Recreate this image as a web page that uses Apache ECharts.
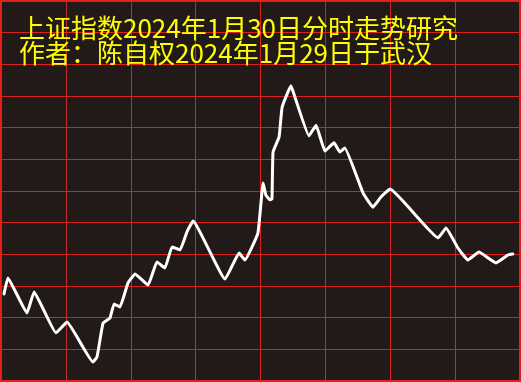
<!DOCTYPE html>
<html>
<head>
<meta charset="utf-8">
<script src="https://cdn.jsdelivr.net/npm/echarts@6/dist/echarts.min.js"></script>
<style>
html,body{margin:0;padding:0;background:#211a18;}
#chart{width:521px;height:382px;}
</style>
</head>
<body>
<div id="chart"></div>
<script>
// Title lines
const titleLine1 = "上证指数2024年1月30日分时走势研究";
const titleLine2 = "作者：陈自权2024年1月29日于武汉";

// Trading minutes from open (0..240)
const minutes = [1.4, 3.2, 12.0, 15.3, 25.4, 30.5, 42.5, 44.4, 47.2, 50.4, 52.3, 55.0, 58.7, 62.0, 68.0, 72.1, 75.8, 79.1, 82.8, 86.0, 88.8, 103.6, 110.1, 112.8, 118.8, 121.2, 122.5, 124.4, 125.3, 125.8, 128.6, 130.0, 134.1, 135.9, 142.4, 145.7, 149.8, 154.0, 156.7, 159.0, 167.4, 172.0, 175.7, 179.9, 202.1, 205.8, 211.3, 215.9, 221.0, 228.9, 234.4, 236.7];
// Relative level (grid units, 0..120)
const levels = [27.5, 32.5, 21.5, 28.1, 15.2, 18.6, 6.0, 7.6, 18.3, 19.9, 24.3, 23.4, 30.9, 33.8, 30.3, 37.6, 35.7, 42.3, 41.4, 47.1, 50.5, 32.2, 40.4, 38.2, 46.7, 62.5, 58.7, 57.2, 57.5, 72.3, 77.1, 86.5, 93.2, 89.7, 77.4, 80.8, 72.6, 75.2, 72.3, 73.6, 59.4, 54.9, 58.1, 60.6, 45.2, 48.3, 42.0, 38.2, 40.7, 37.3, 39.8, 40.1];

const xMin = 0, xMax = 240, xStep = 30;
const yMin = 0, yMax = 120, yStep = 10;

const data = minutes.map((m, i) => [m, levels[i]]);

const chart = echarts.init(document.getElementById('chart'), null, {renderer: 'canvas'});
chart.setOption({
  backgroundColor: '#211a18',
  animation: false,
  grid: {left: 1, right: 1, top: 1, bottom: 1, show: true, borderColor: '#e8201c', borderWidth: 2, backgroundColor: 'transparent', containLabel: false},
  xAxis: {
    type: 'value', min: xMin, max: xMax, interval: xStep,
    axisLine: {show: false}, axisTick: {show: false}, axisLabel: {show: false},
    splitLine: {show: true, lineStyle: {color: ['#e01e1e', '#c02c2c'], width: 1}}
  },
  yAxis: {
    type: 'value', min: yMin, max: yMax, interval: yStep,
    axisLine: {show: false}, axisTick: {show: false}, axisLabel: {show: false},
    splitLine: {show: true, lineStyle: {color: '#e01e1e', width: 1}}
  },
  graphic: [
    {type: 'text', left: 19, top: 15, z: 100, style: {text: titleLine1, fill: '#ffff00', font: '26px "Noto Sans CJK SC"'}},
    {type: 'text', left: 19, top: 40, z: 100, style: {text: titleLine2, fill: '#ffff00', font: '26px "Noto Sans CJK SC"'}}
  ],
  series: [{
    type: 'line', data: data, showSymbol: false, smooth: 0.1,
    lineStyle: {color: '#ffffff', width: 3, cap: 'round', join: 'round'},
    z: 10
  }]
});
</script>
</body>
</html>
